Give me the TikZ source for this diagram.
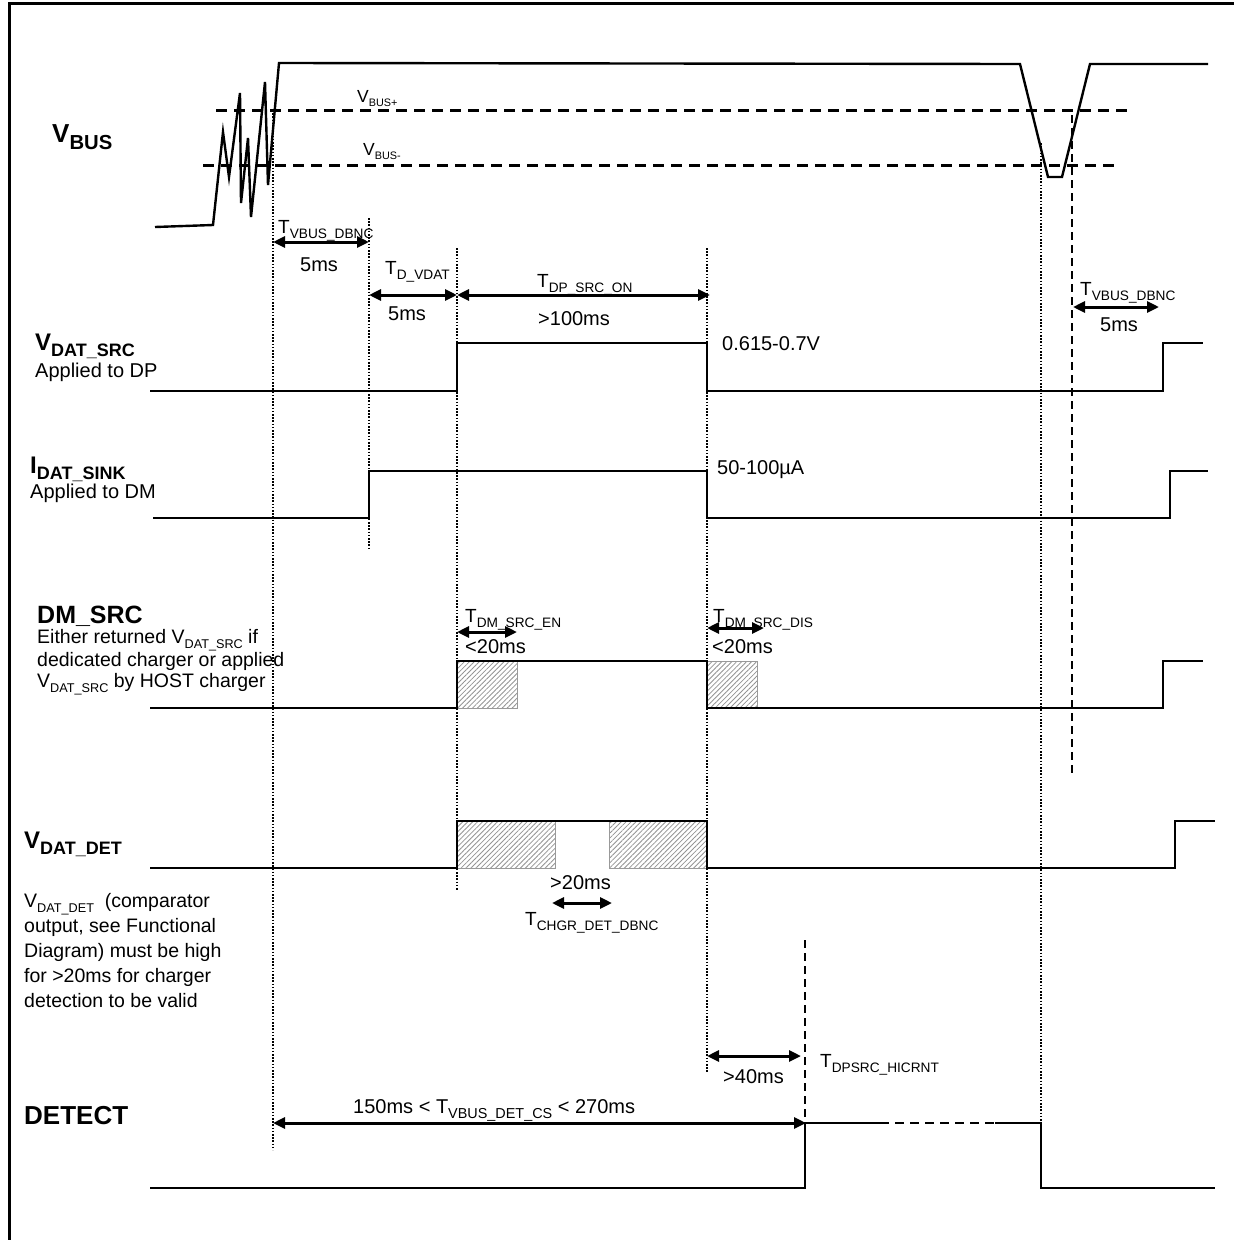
\documentclass[tikz,border=0pt]{standalone}
\usepackage{fontspec}
\usepackage{graphicx}
\setmainfont{Liberation Sans}
\usetikzlibrary{arrows.meta,patterns.meta}
\newcommand\lowsub[2][0.72]{\raisebox{-0.28em}{\scalebox{#1}{#2}}}
\tikzset{
  wave/.style={line width=2.4pt, line join=miter},
  frameline/.style={line width=3pt},
  vdot/.style={line width=1.3pt, dash pattern=on 1.6pt off 1.6pt},
  thdash/.style={line width=2.8pt, dash pattern=on 8pt off 5pt},
  hdash/.style={line width=3pt, dash pattern=on 11pt off 7pt},
  dimarrow/.style={line width=3pt, {Triangle[length=12pt,width=11pt]}-{Triangle[length=12pt,width=11pt]}},
  hatchbox/.style={draw=gray!80, line width=0.8pt, pattern={Lines[angle=45,distance=3.5pt,line width=0.8pt]}, pattern color=gray!85},
  txt/.style={inner sep=0pt, anchor=base west, font=\fontsize{20}{20}\selectfont},
  ptxt/.style={inner sep=0pt, anchor=base west, font=\fontsize{19.5}{20}\selectfont},
  tlab/.style={inner sep=0pt, anchor=base west, font=\fontsize{19}{19}\selectfont},
  smlab/.style={inner sep=0pt, anchor=base west, font=\fontsize{17.5}{17.5}\selectfont},
  biglab/.style={inner sep=0pt, anchor=base west, font=\fontsize{25}{25}\selectfont\bfseries},
}
\begin{document}
\begin{tikzpicture}[x=1pt,y=-1pt]
\useasboundingbox (0,0) rectangle (1234,1240);
% frame
\draw[frameline] (9,1240) -- (9,3) -- (1234,3);

% vertical guide lines
\draw[vdot] (273,110) -- (273,1150);
\draw[vdot] (369,218) -- (369,550);
\draw[vdot] (457,248) -- (457,890);
\draw[vdot] (707,248) -- (707,1072);
\draw[vdot] (1041,143) -- (1041,1123);
\draw[thdash] (1072,115) -- (1072,775);
\draw[thdash] (805,940) -- (805,1123);

% VBUS thresholds
\draw[hdash] (216,110) -- (1132,110);
\draw[hdash] (203,165) -- (1120,165);

% VBUS waveform
\draw[wave] (155,227) -- (213,225) -- (223,132) -- (229,177) -- (240,93) -- (241,203) -- (248,138) -- (251,217) -- (265,82) -- (268,185) -- (279,63) -- (1020,64) -- (1048,177) -- (1062,177) -- (1090,64) -- (1208,64);

\node[biglab, font=\fontsize{26}{26}\selectfont\bfseries] (lvbus) at (52,142) {V\lowsub[0.78]{BUS}};
\node[smlab] (lvbusp) at (357,102) {V\lowsub[0.62]{BUS+}};
\node[smlab] (lvbusm) at (363,155) {V\lowsub[0.62]{BUS-}};

% timing arrows at top
\coordinate (a1s) at (273,242); \coordinate (a1e) at (369,242);
\draw[dimarrow] (a1s) -- (a1e);
\node[tlab] (lt1) at (278,233) {T\lowsub{VBUS\_DBNC}};
\node[txt] (lv1) at (300,271) {5ms};

\coordinate (a2s) at (369,295); \coordinate (a2e) at (457,295);
\draw[dimarrow] (a2s) -- (a2e);
\node[tlab] (lt2) at (385,274) {T\lowsub{D\_VDAT}};
\node[txt] (lv2) at (388,320) {5ms};

\coordinate (a3s) at (457,295); \coordinate (a3e) at (710,295);
\draw[dimarrow] (a3s) -- (a3e);
\node[tlab] (lt3) at (537,287) {T\lowsub{DP\_SRC\_ON}};
\node[txt] (lv3) at (538,325) {>100ms};

\coordinate (a4s) at (1073,307); \coordinate (a4e) at (1159,307);
\draw[dimarrow] (a4s) -- (a4e);
\node[tlab] (lt4) at (1080,295) {T\lowsub{VBUS\_DBNC}};
\node[txt] (lv4) at (1100,331) {5ms};

% VDAT_SRC
\draw[wave] (150,391) -- (457,391) -- (457,343) -- (707,343) -- (707,391) -- (1163,391) -- (1163,343) -- (1203,343);
\node[biglab, font=\fontsize{24}{24}\selectfont\bfseries] (lvdat) at (35,350) {V\lowsub[0.75]{DAT\_SRC}};
\node[txt] (lvdat2) at (35,377) {Applied to DP};
\node[txt] (lvdatv) at (722,350) {0.615-0.7V};

% IDAT_SINK
\draw[wave] (153,518) -- (369,518) -- (369,471) -- (707,471) -- (707,518) -- (1170,518) -- (1170,471) -- (1208,471);
\node[biglab, font=\fontsize{24}{24}\selectfont\bfseries] (lidat) at (30,473) {I\lowsub[0.75]{DAT\_SINK}};
\node[txt] (lidat2) at (30,498) {Applied to DM};
\node[txt] (lidatv) at (717,474) {50-100µA};

% DM_SRC
\draw[hatchbox] (457,661) rectangle (517,708);
\draw[hatchbox] (707,661) rectangle (757,708);
\draw[wave] (150,708) -- (457,708) -- (457,661) -- (707,661) -- (707,708) -- (1163,708) -- (1163,661) -- (1203,661);
\node[biglab] (ldm) at (37,623) {DM\_SRC};
\node[ptxt] (ldm1) at (37,643) {Either returned V\lowsub[0.65]{DAT\_SRC} if};
\node[ptxt] (ldm2) at (37,666) {dedicated charger or applied};
\node[ptxt] (ldm3) at (37,687) {V\lowsub[0.65]{DAT\_SRC} by HOST charger};

\coordinate (a5s) at (457,632); \coordinate (a5e) at (517,632);
\draw[dimarrow] (a5s) -- (a5e);
\node[tlab] (lt5) at (465,622) {T\lowsub{DM\_SRC\_EN}};
\node[txt] (lv5) at (465,653) {<20ms};

\coordinate (a6s) at (707,628); \coordinate (a6e) at (764,628);
\draw[dimarrow] (a6s) -- (a6e);
\node[tlab] (lt6) at (713,622) {T\lowsub{DM\_SRC\_DIS}};
\node[txt] (lv6) at (712,653) {<20ms};

% VDAT_DET
\draw[hatchbox] (457,821) rectangle (555,868);
\draw[hatchbox] (609,821) rectangle (707,868);
\draw[wave] (150,868) -- (457,868) -- (457,821) -- (707,821) -- (707,868) -- (1175,868) -- (1175,821) -- (1215,821);
\node[biglab, font=\fontsize{24}{24}\selectfont\bfseries] (ldet) at (24,848) {V\lowsub[0.75]{DAT\_DET}};
\node[ptxt] (ldet1) at (24,907) {V\lowsub[0.65]{DAT\_DET} \ (comparator};
\node[ptxt] (ldet2) at (24,932) {output, see Functional};
\node[ptxt] (ldet3) at (24,957) {Diagram) must be high};
\node[ptxt] (ldet4) at (24,982) {for >20ms for charger};
\node[ptxt] (ldet5) at (24,1007) {detection to be valid};

\node[txt] (lv7) at (550,889) {>20ms};
\coordinate (a7s) at (552,903); \coordinate (a7e) at (612,903);
\draw[dimarrow] (a7s) -- (a7e);
\node[tlab] (lt7) at (525,925) {T\lowsub{CHGR\_DET\_DBNC}};

% >40ms
\coordinate (a8s) at (707,1056); \coordinate (a8e) at (801,1056);
\draw[dimarrow] (a8s) -- (a8e);
\node[txt] (lv8) at (723,1083) {>40ms};
\node[tlab] (lt8) at (820,1067) {T\lowsub{DPSRC\_HICRNT}};

% 150ms arrow
\coordinate (a9s) at (273,1123); \coordinate (a9e) at (806,1123);
\draw[dimarrow] (a9s) -- (a9e);
\node[txt] (lv9) at (353,1113) {150ms < T\lowsub{VBUS\_DET\_CS} < 270ms};

% DETECT
\node[biglab, font=\fontsize{26}{26}\selectfont\bfseries] (ldetect) at (24,1124) {DETECT};
\draw[wave] (150,1188) -- (805,1188) -- (805,1123) -- (880,1123);
\draw[wave, dash pattern=on 9pt off 6pt] (880,1123) -- (995,1123);
\draw[wave] (995,1123) -- (1041,1123) -- (1041,1188) -- (1215,1188);
\end{tikzpicture}
\end{document}
